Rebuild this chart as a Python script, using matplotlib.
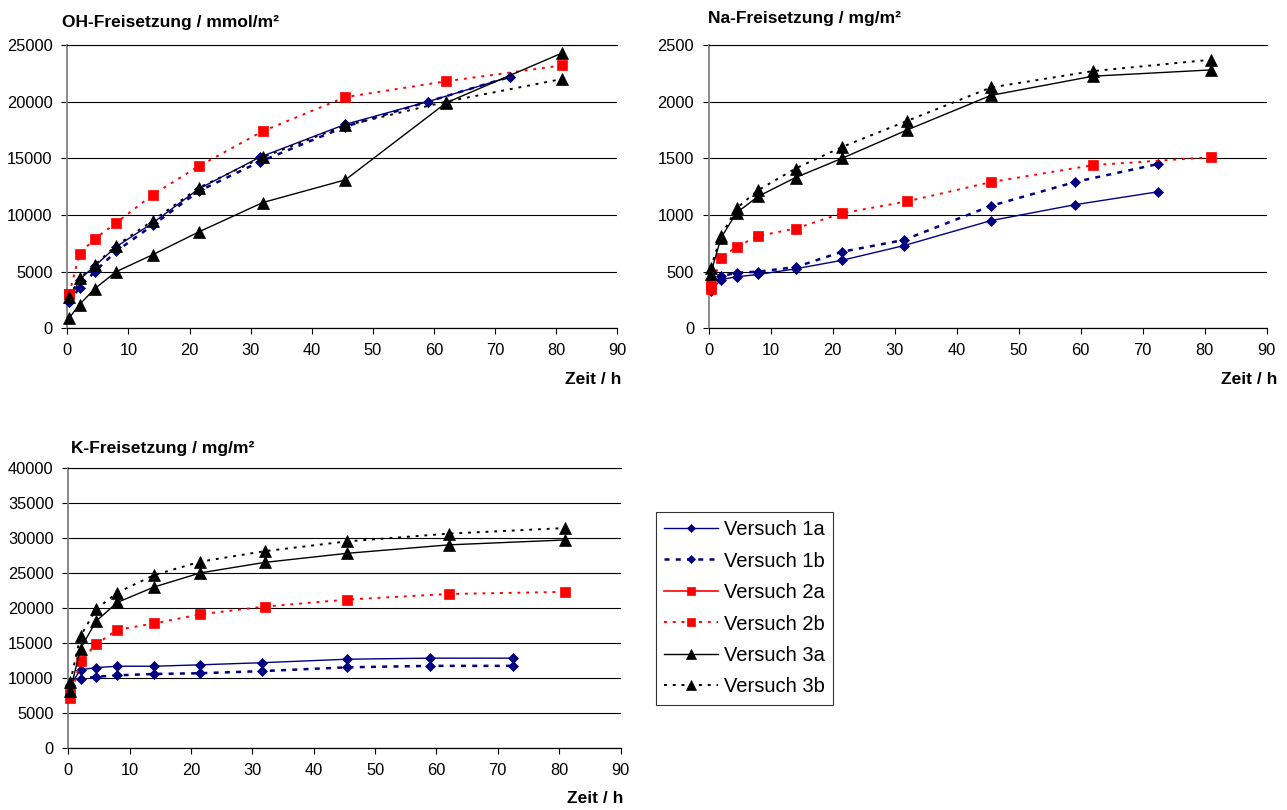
import matplotlib
matplotlib.use('Agg')
import matplotlib.pyplot as plt

plt.rcParams['font.family'] = ['Liberation Sans', 'DejaVu Sans']

# Zeitpunkte der Messungen (h)
zeitV1 = [0.3, 2, 4.5, 8, 14, 21.5, 31.5, 45.5, 59, 72.5]
zeitV23 = [0.3, 2, 4.5, 8, 14, 21.5, 32, 45.5, 62, 81]
zeitV2a = [0.3]

# OH-Freisetzung / mmol/m2
ohV1a = [2300, 4300, 5500, 7200, 9300, 12300, 15100, 18000, 20000, 22200]
ohV1b = [2300, 3600, 5000, 6800, 9100, 12100, 14700, 17800, 20000, 22200]
ohV2a = [3000]
ohV2b = [3000, 6600, 7900, 9300, 11800, 14300, 17400, 20400, 21800, 23200]
ohV3a = [900, 2100, 3500, 5000, 6500, 8500, 11100, 13100, 19900, 24300]
ohV3b = [2800, 4400, 5600, 7300, 9500, 12400, 15100, 17900, 20000, 22000]

# Na-Freisetzung / mg/m2
naV1a = [330, 430, 455, 475, 525, 600, 730, 950, 1090, 1205]
naV1b = [350, 460, 490, 500, 540, 675, 780, 1080, 1290, 1450]
naV2a = [400]
naV2b = [350, 620, 720, 815, 880, 1015, 1120, 1290, 1440, 1510]
naV3a = [480, 800, 1020, 1165, 1330, 1500, 1750, 2055, 2225, 2280]
naV3b = [530, 815, 1060, 1220, 1410, 1600, 1830, 2125, 2270, 2370]

# K-Freisetzung / mg/m2
kV1a = [9000, 11200, 11500, 11700, 11700, 11900, 12200, 12700, 12850, 12850]
kV1b = [8800, 9900, 10200, 10400, 10600, 10700, 11000, 11550, 11750, 11750]
kV2a = [8300]
kV2b = [7100, 12500, 14800, 16900, 17800, 19100, 20200, 21200, 22000, 22300]
kV3a = [8200, 14200, 18100, 20800, 23000, 25000, 26500, 27800, 29000, 29700]
kV3b = [9400, 16000, 19800, 22200, 24700, 26600, 28100, 29500, 30600, 31400]

seriesNames = ['Versuch 1a', 'Versuch 1b', 'Versuch 2a', 'Versuch 2b', 'Versuch 3a', 'Versuch 3b']
seriesTimes = [zeitV1, zeitV1, zeitV2a, zeitV23, zeitV23, zeitV23]

navy = '#000080'
red = '#ff0000'
seriesStyles = [
	dict(color=navy, ls='-', lw=1.0, marker='D', ms=5),
	dict(color=navy, ls=(0, (2, 2.5)), lw=1.8, marker='D', ms=5),
	dict(color=red, ls='-', lw=1.2, marker='s', ms=7.5),
	dict(color=red, ls=(0, (1.5, 3)), lw=1.4, marker='s', ms=7.5),
	dict(color='black', ls='-', lw=1.0, marker='^', ms=8),
	dict(color='black', ls=(0, (1.5, 3)), lw=1.4, marker='^', ms=8),
]

W, H = 1287, 810
fig = plt.figure(figsize=(W / 100, H / 100), dpi=100)


def pxAxes(left, top, right, bottom):
	# axes from pixel box of the picture
	return fig.add_axes([left / W, 1 - bottom / H, (right - left) / W, (bottom - top) / H])


def drawPanel(ax, values, yMax, yStep):
	lines = []
	for times, vals, style in zip(seriesTimes, values, seriesStyles):
		line, = ax.plot(times, vals, clip_on=False, markeredgewidth=0.5, zorder=3, **style)
		lines.append(line)
	ax.set_xlim(0, 90)
	ax.set_ylim(0, yMax)
	ax.set_xticks(range(0, 91, 10))
	ax.set_yticks(range(0, yMax + 1, yStep))
	ax.yaxis.grid(True, color='black', lw=0.8)
	ax.set_axisbelow(True)
	ax.spines['right'].set_visible(False)
	ax.spines['top'].set_color('black')
	ax.spines['top'].set_linewidth(0.8)
	ax.spines['left'].set_color('#808080')
	ax.spines['left'].set_linewidth(1.3)
	ax.spines['bottom'].set_linewidth(0.9)
	ax.tick_params(axis='both', direction='out', length=4, width=0.8, labelsize=11.8, pad=6.5)
	return lines


axOH = pxAxes(67.3, 45, 617.3, 328.3)
handles = drawPanel(axOH, [ohV1a, ohV1b, ohV2a, ohV2b, ohV3a, ohV3b], 25000, 5000)

axNa = pxAxes(708.7, 45, 1266.7, 328.3)
drawPanel(axNa, [naV1a, naV1b, naV2a, naV2b, naV3a, naV3b], 2500, 500)

axK = pxAxes(68.3, 467.7, 620.5, 748.3)
drawPanel(axK, [kV1a, kV1b, kV2a, kV2b, kV3a, kV3b], 40000, 5000)

# titles and axis labels
titleFont = dict(fontsize=12.5, fontweight='bold', va='baseline')
fig.text(62 / W, 1 - 27.3 / H, 'OH-Freisetzung / mmol/m²', ha='left', **titleFont)
fig.text(708 / W, 1 - 22.7 / H, 'Na-Freisetzung / mg/m²', ha='left', **titleFont)
fig.text(71 / W, 1 - 452.7 / H, 'K-Freisetzung / mg/m²', ha='left', **titleFont)
fig.text(621 / W, 1 - 384.3 / H, 'Zeit / h', ha='right', **titleFont)
fig.text(1277 / W, 1 - 384.3 / H, 'Zeit / h', ha='right', **titleFont)
fig.text(623 / W, 1 - 802.7 / H, 'Zeit / h', ha='right', **titleFont)

leg = fig.legend(handles, seriesNames, loc='upper left', bbox_to_anchor=(656 / W, 1 - 512 / H),
	bbox_transform=fig.transFigure, fontsize=14.5, frameon=True, fancybox=False,
	edgecolor='black', handlelength=2.7, handletextpad=0.3, labelspacing=0.62,
	borderpad=0.4, borderaxespad=0, markerscale=0.85)
leg.get_frame().set_linewidth(0.8)

fig.savefig('out.png', dpi=100)
